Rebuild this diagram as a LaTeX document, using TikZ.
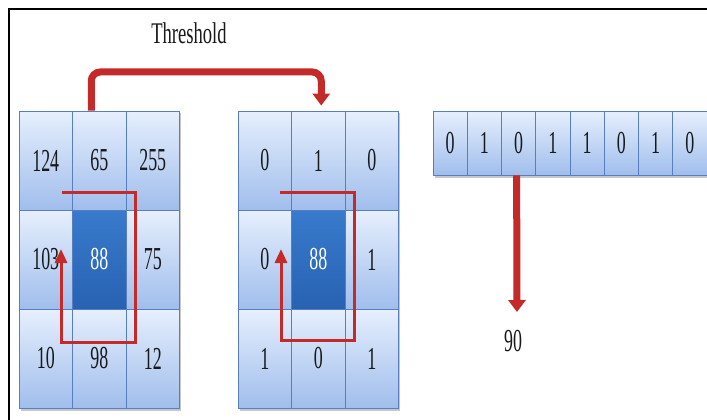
\documentclass[tikz,border=0pt]{standalone}
\usepackage{fontspec}
\setmainfont{Liberation Serif}
\usetikzlibrary{arrows.meta}
\definecolor{celltop}{RGB}{230,239,253}
\definecolor{cellbot}{RGB}{160,190,236}
\definecolor{cellline}{RGB}{88,126,194}
\definecolor{centertop}{RGB}{56,122,204}
\definecolor{centerbot}{RGB}{40,98,178}
\definecolor{arrowred}{RGB}{196,42,40}
\definecolor{inkgray}{RGB}{25,25,25}
% condensed figures
\newcommand\cnd[1]{\scalebox{0.56}[1]{#1}}

\begin{document}
\begin{tikzpicture}[x=1pt,y=-1pt,
  cell/.style={draw=cellline, line width=0.9pt, top color=celltop, bottom color=cellbot,
    minimum width=53.5pt, minimum height=99pt, inner sep=0pt,
    font=\fontsize{32}{32}\selectfont, text=inkgray},
  bitcell/.style={cell, minimum width=34.25pt, minimum height=64pt},
  centercell/.style={cell, top color=centertop, bottom color=centerbot, text=white},
  thinred/.style={draw=arrowred, line width=3pt, -{Triangle[width=12pt,length=14pt]}},
  thickred/.style={draw=arrowred, line width=7pt, rounded corners=9pt,
    -{Triangle[width=17pt,length=12pt]}},
  shade/.style={fill=black, opacity=0.22},
  label/.style={font=\fontsize{32}{32}\selectfont, text=inkgray}
]
\useasboundingbox (0,0) rectangle (707,420);
\clip (0,0) rectangle (707,420);

% frame
\draw[line width=2.5pt] (9,421) -- (9,9) -- (708,9);

% soft shadows under the blocks
\fill[shade] (20.5,113) rectangle (181,410.5);
\fill[shade] (239.5,113) rectangle (400,410.5);
\fill[shade] (434.5,113) rectangle (710,177.5);

% input neighbourhood
\node[cell] (a11) at (45.75,160.5) {\cnd{124}};
\node[cell] (a12) at (99.25,160.5) {\cnd{65}};
\node[cell] (a13) at (152.75,160.5) {\cnd{255}};
\node[cell] (a21) at (45.75,259.5) {\cnd{103}};
\node[centercell] (a22) at (99.25,259.5) {\cnd{88}};
\node[cell] (a23) at (152.75,259.5) {\cnd{75}};
\node[cell] (a31) at (45.75,358.5) {\cnd{10}};
\node[cell] (a32) at (99.25,358.5) {\cnd{98}};
\node[cell] (a33) at (152.75,358.5) {\cnd{12}};

% thresholded neighbourhood
\node[cell] (b11) at (264.75,160.5) {\cnd{0}};
\node[cell] (b12) at (318.25,160.5) {\cnd{1}};
\node[cell] (b13) at (371.75,160.5) {\cnd{0}};
\node[cell] (b21) at (264.75,259.5) {\cnd{0}};
\node[centercell] (b22) at (318.25,259.5) {\cnd{88}};
\node[cell] (b23) at (371.75,259.5) {\cnd{1}};
\node[cell] (b31) at (264.75,358.5) {\cnd{1}};
\node[cell] (b32) at (318.25,358.5) {\cnd{0}};
\node[cell] (b33) at (371.75,358.5) {\cnd{1}};

% binary code
\foreach \v [count=\i] in {0,1,0,1,1,0,1,0}
  \node[bitcell] (c\i) at ({433+(\i-0.5)*34.25},143) {\cnd{\v}};

% labels
\node[font=\fontsize{30}{30}\selectfont, text=inkgray] (thr) at (189,33) {\scalebox{0.62}[1]{Threshold}};
\node[label] (res) at (513,341) {\cnd{90}};

% threshold arrow between the grids
\coordinate (thrA) at ([xshift=-8pt]a12.north);
\coordinate (thrB) at ([xshift=3pt,yshift=5pt]b12.north);
\draw[thickred] (thrA) -- (thrA |- 0,72) -- (thrB |- 0,72) -- (thrB);

% sampling order around the centre pixel
\coordinate (p1) at (62,192);
\coordinate (p2) at (135,192);
\coordinate (p3) at (135,342);
\coordinate (p4) at (61,342);
\coordinate (p5) at (61,249);
\draw[thinred] (p1) -- (p2) -- (p3) -- (p4) -- (p5);

\coordinate (q1) at (280,192);
\coordinate (q2) at (354,192);
\coordinate (q3) at (354,340);
\coordinate (q4) at (281,340);
\coordinate (q5) at (281,249);
\draw[thinred] (q1) -- (q2) -- (q3) -- (q4) -- (q5);

% code to decimal
\coordinate (dec) at (517,312);
\draw[thickred] ([xshift=-2pt]c3.south) -- (dec);
\end{tikzpicture}
\end{document}
